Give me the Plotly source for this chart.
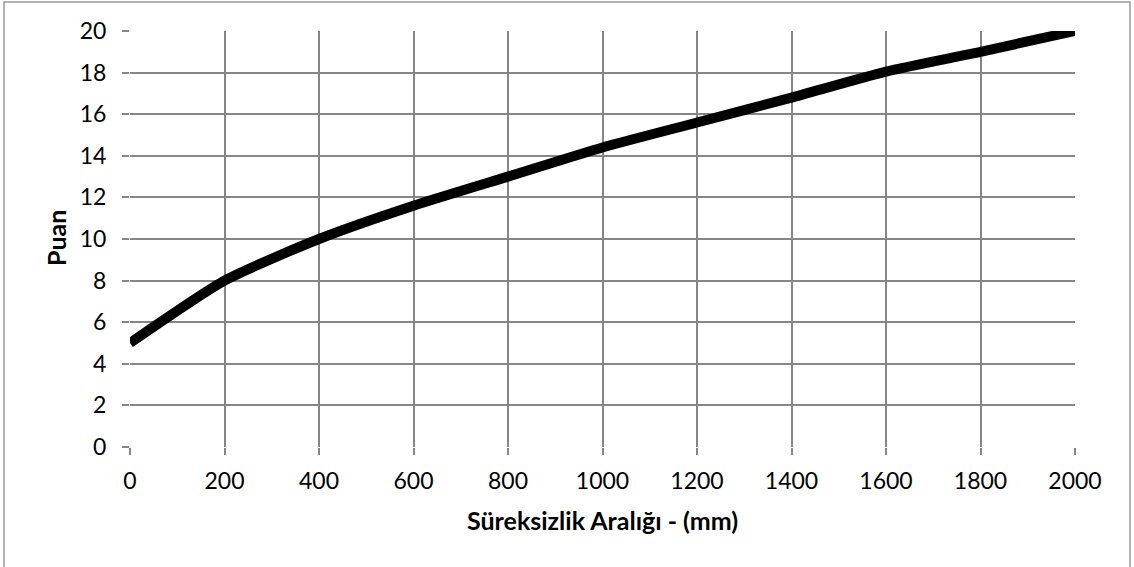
import plotly.graph_objects as go

# Data
x_vals = [0, 200, 400, 600, 800, 1000, 1200, 1400, 1600, 1800, 2000]
puan = [5.0, 8.0, 10.0, 11.6, 13.0, 14.4, 15.6, 16.8, 18.05, 19.0, 20.0]
x_ticks = [0, 200, 400, 600, 800, 1000, 1200, 1400, 1600, 1800, 2000]
y_ticks = [0, 2, 4, 6, 8, 10, 12, 14, 16, 18, 20]
x_title = "Süreksizlik Aralığı - (mm)"
y_title = "Puan"

W, H = 1134, 567
L, R, T, B = 130, 59, 31, 120
pw, ph = W - L - R, H - T - B

def px(p):
    return (p - L) / pw

def py(p):
    return (H - B - p) / ph

FONT = "Lato"
GRID = "#868686"

fig = go.Figure()
fig.add_trace(go.Scatter(
    x=x_vals, y=puan, mode="lines",
    line=dict(color="black", width=10, shape="spline", smoothing=0.6),
    showlegend=False, hoverinfo="skip",
))

fig.update_layout(
    width=W, height=H, autosize=False,
    margin=dict(l=L, r=R, t=T, b=B),
    paper_bgcolor="white", plot_bgcolor="white",
    font=dict(family=FONT, size=23, color="black"),
    xaxis=dict(
        range=[0, 2000], tickvals=x_ticks, ticktext=[str(v) for v in x_ticks],
        showgrid=True, gridcolor=GRID, gridwidth=1.6,
        ticks="outside", ticklen=7, tickcolor=GRID, tickwidth=1.6,
        showline=False, zeroline=False, fixedrange=True,
        tickfont=dict(family=FONT, size=23), ticklabelstandoff=6,
    ),
    yaxis=dict(
        range=[0, 20], tickvals=y_ticks, ticktext=[str(v) for v in y_ticks],
        showgrid=True, gridcolor=GRID, gridwidth=1.6,
        ticks="outside", ticklen=7, tickcolor=GRID, tickwidth=1.6,
        showline=False, zeroline=False, fixedrange=True,
        tickfont=dict(family=FONT, size=23), ticklabelstandoff=11,
    ),
    annotations=[
        dict(text="<b>" + x_title + "</b>", xref="paper", yref="paper",
             x=px(602), y=py(520), showarrow=False,
             font=dict(family=FONT, size=25), xanchor="center", yanchor="middle"),
        dict(text="<b>" + y_title + "</b>", xref="paper", yref="paper",
             x=px(56), y=py(238), showarrow=False, textangle=-90,
             font=dict(family=FONT, size=25), xanchor="center", yanchor="middle"),
    ],
    shapes=[
        dict(type="rect", xref="paper", yref="paper",
             x0=px(4), x1=px(1130), y0=py(575), y1=py(2),
             line=dict(color="#9a9a9a", width=1.5), fillcolor="rgba(0,0,0,0)",
             layer="below"),
    ],
)

fig.write_html("out.html", config={"displayModeBar": False},
               post_script="document.body.style.margin='0';document.body.style.overflow='hidden';")
